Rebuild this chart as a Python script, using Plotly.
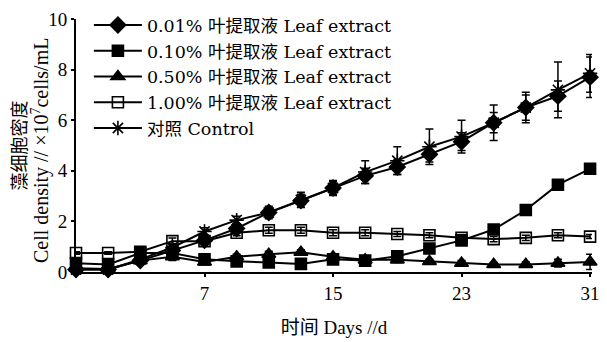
import plotly.graph_objects as go

days = [-1, 1, 3, 5, 7, 9, 11, 13, 15, 17, 19, 21, 23, 25, 27, 29, 31]

leaf_001 = [0.10, 0.10, 0.45, 0.85, 1.25, 1.72, 2.35, 2.82, 3.32, 3.80, 4.15, 4.65, 5.15, 5.90, 6.50, 6.95, 7.70]
leaf_001_err = [0.05, 0.05, 0.10, 0.10, 0.15, 0.15, 0.25, 0.25, 0.25, 0.30, 0.30, 0.30, 0.35, 0.40, 0.50, 0.60, 0.80]

leaf_010 = [0.35, 0.30, 0.75, 0.75, 0.50, 0.42, 0.38, 0.32, 0.50, 0.45, 0.62, 0.93, 1.25, 1.68, 2.45, 3.45, 4.08]
leaf_010_err = [0.05, 0.05, 0.08, 0.10, 0.15, 0.10, 0.08, 0.08, 0.10, 0.12, 0.08, 0.08, 0.08, 0.10, 0.08, 0.12, 0.10]

leaf_050 = [0.15, 0.12, 0.45, 0.60, 0.40, 0.60, 0.70, 0.78, 0.60, 0.48, 0.48, 0.42, 0.35, 0.30, 0.30, 0.35, 0.40]
leaf_050_err = [0.05, 0.05, 0.10, 0.15, 0.10, 0.10, 0.12, 0.10, 0.12, 0.15, 0.10, 0.08, 0.10, 0.08, 0.10, 0.15, 0.30]

leaf_100 = [0.75, 0.75, 0.80, 1.22, 1.22, 1.55, 1.65, 1.65, 1.55, 1.55, 1.50, 1.45, 1.35, 1.30, 1.35, 1.45, 1.40]
leaf_100_err = [0.05, 0.05, 0.08, 0.12, 0.12, 0.12, 0.12, 0.12, 0.12, 0.12, 0.10, 0.10, 0.12, 0.10, 0.10, 0.10, 0.08]

control = [0.10, 0.10, 0.50, 0.97, 1.60, 2.05, 2.35, 2.85, 3.32, 3.95, 4.40, 4.95, 5.35, 5.90, 6.50, 7.20, 7.85]
control_err = [0.05, 0.05, 0.10, 0.15, 0.15, 0.15, 0.20, 0.30, 0.30, 0.45, 0.55, 0.70, 0.65, 0.70, 0.60, 1.10, 0.75]

names = [
    "0.01% 叶提取液 Leaf extract",
    "0.10% 叶提取液 Leaf extract",
    "0.50% 叶提取液 Leaf extract",
    "1.00% 叶提取液 Leaf extract",
    "对照 Control",
]
series = [leaf_001, leaf_010, leaf_050, leaf_100, control]
errors = [leaf_001_err, leaf_010_err, leaf_050_err, leaf_100_err, control_err]
symbols = ["diamond", "square", "triangle-up", "square-open", "asterisk-open"]
sizes = [12, 11, 12, 11, 12]

x_ticks = [7, 15, 23, 31]
y_ticks = [0, 2, 4, 6, 8, 10]

y_title_cn = "藻细胞密度"
y_title_en = "Cell density // ×10<sup>7</sup>cells/mL"
x_title = "时间 Days //d"

FONT = "Liberation Serif, Noto Sans CJK SC, serif"
LEG_FONT = "DejaVu Serif, Noto Sans CJK SC, serif"

fig = go.Figure()
for name, ys, es, sym, sz in zip(names, series, errors, symbols, sizes):
    fig.add_trace(go.Scatter(
        x=days, y=ys, name=name, mode="lines+markers",
        line=dict(color="black", width=2),
        marker=dict(symbol=sym, size=sz, color="black",
                    line=dict(color="black", width=1.6)),
        error_y=dict(type="data", array=es, visible=True,
                     color="black", thickness=1.5, width=4),
        cliponaxis=False,
    ))

fig.update_layout(
    width=607, height=342,
    margin=dict(l=76, r=7, t=17, b=65),
    paper_bgcolor="white", plot_bgcolor="white",
    font=dict(family=FONT, size=19, color="black"),
    showlegend=True,
    legend=dict(
        x=0.025, y=1.047, xanchor="left", yanchor="top",
        bgcolor="rgba(0,0,0,0)", font=dict(family=LEG_FONT, size=17.5),
        itemwidth=48, tracegroupgap=0,
    ),
    xaxis=dict(
        range=[-1.0, 31.12], tickvals=x_ticks, ticktext=[str(v) for v in x_ticks],
        showline=True, linecolor="black", linewidth=2,
        ticks="outside", ticklen=3, tickwidth=1.5, tickcolor="black",
        ticklabeloverflow="allow",
        showgrid=False, zeroline=False,
        title=dict(text=x_title, font=dict(family=FONT, size=19), standoff=18),
    ),
    yaxis=dict(
        range=[0, 10], tickvals=y_ticks, ticktext=[str(v) for v in y_ticks],
        showline=True, linecolor="black", linewidth=2,
        ticks="outside", ticklen=3, tickwidth=1.5, tickcolor="black",
        ticklabeloverflow="allow",
        showgrid=False, zeroline=False,
    ),
    annotations=[
        dict(text=y_title_cn, xref="paper", yref="paper", x=0, y=0.5,
             xanchor="center", yanchor="middle", xshift=-57, textangle=-90,
             showarrow=False, font=dict(family=FONT, size=18)),
        dict(text=y_title_en, xref="paper", yref="paper", x=0, y=0.478,
             xanchor="center", yanchor="middle", xshift=-36, textangle=-90,
             showarrow=False, font=dict(family=FONT, size=20)),
    ],
)

fig.write_html("out.html")
